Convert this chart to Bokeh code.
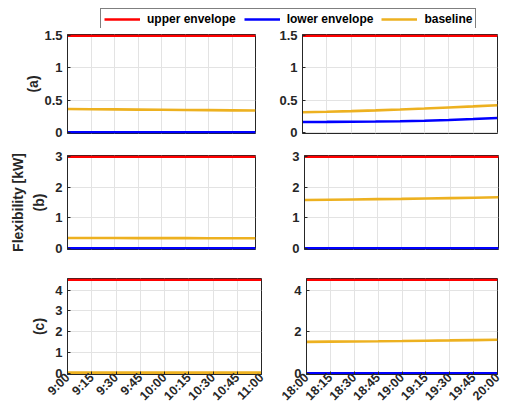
import math
from bokeh.plotting import figure
from bokeh.layouts import column, row
from bokeh.models import Range1d, FixedTicker
from bokeh.embed import file_html
from bokeh.resources import INLINE

# ---------------- data ----------------
left_times = ["9:00", "9:15", "9:30", "9:45", "10:00", "10:15", "10:30", "10:45", "11:00"]
right_times = ["18:00", "18:15", "18:30", "18:45", "19:00", "19:15", "19:30", "19:45", "20:00"]

# row (a)
a_left_upper = [1.5, 1.5, 1.5, 1.5, 1.5, 1.5, 1.5, 1.5, 1.5]
a_left_lower = [0, 0, 0, 0, 0, 0, 0, 0, 0]
a_left_base = [0.36, 0.358, 0.355, 0.352, 0.349, 0.346, 0.343, 0.340, 0.337]
a_right_upper = [1.5, 1.5, 1.5, 1.5, 1.5, 1.5, 1.5, 1.5, 1.5]
a_right_lower = [0.16, 0.161, 0.163, 0.166, 0.171, 0.179, 0.191, 0.205, 0.22]
a_right_base = [0.31, 0.318, 0.328, 0.34, 0.354, 0.369, 0.385, 0.402, 0.42]

# row (b)
b_left_upper = [3, 3, 3, 3, 3, 3, 3, 3, 3]
b_left_lower = [0, 0, 0, 0, 0, 0, 0, 0, 0]
b_left_base = [0.335, 0.334, 0.333, 0.332, 0.331, 0.33, 0.329, 0.328, 0.327]
b_right_upper = [3, 3, 3, 3, 3, 3, 3, 3, 3]
b_right_lower = [0, 0, 0, 0, 0, 0, 0, 0, 0]
b_right_base = [1.58, 1.59, 1.60, 1.61, 1.62, 1.632, 1.645, 1.657, 1.67]

# row (c)
c_left_upper = [4.5, 4.5, 4.5, 4.5, 4.5, 4.5, 4.5, 4.5, 4.5]
c_left_lower = [0, 0, 0, 0, 0, 0, 0, 0, 0]
c_left_base = [0.03, 0.03, 0.03, 0.03, 0.03, 0.03, 0.03, 0.03, 0.03]
c_right_upper = [4.5, 4.5, 4.5, 4.5, 4.5, 4.5, 4.5, 4.5, 4.5]
c_right_lower = [0, 0, 0, 0, 0, 0, 0, 0, 0]
c_right_base = [1.51, 1.52, 1.53, 1.54, 1.553, 1.567, 1.58, 1.595, 1.61]

a_yticks = [0, 0.5, 1, 1.5]
a_ylabels = ["0", "0.5", "1", "1.5"]
b_yticks = [0, 1, 2, 3]
b_ylabels = ["0", "1", "2", "3"]
c_left_yticks = [0, 1, 2, 3, 4]
c_left_ylabels = ["0", "1", "2", "3", "4"]
c_right_yticks = [0, 2, 4]
c_right_ylabels = ["0", "2", "4"]

series_names = ["upper envelope", "lower envelope", "baseline"]
series_colors = ["#ff0000", "#0000ff", "#edb120"]

FONT = "Liberation Sans"
TXT = "#262626"
GRID = "#e3e3e3"
LW = 2.6


def panel(times, upper, lower, base, yticks, ylabels, ymax, pad,
          w, h, bl, br, bt, bb, ylabel=None, label_standoff=5, show_x=False):
    p = figure(width=w, height=h, output_backend="svg", toolbar_location=None,
               min_border_left=bl, min_border_right=br,
               min_border_top=bt, min_border_bottom=bb,
               x_range=Range1d(0, len(times) - 1),
               y_range=Range1d(-pad, ymax + pad))
    xs = list(range(len(times)))
    for ys, col in zip([upper, lower, base], series_colors):
        p.line(xs, ys, line_color=col, line_width=LW)
    p.background_fill_color = "white"
    p.border_fill_color = "white"
    p.outline_line_color = TXT
    p.outline_line_width = 1

    p.xaxis.ticker = FixedTicker(ticks=xs)
    p.xgrid.ticker = FixedTicker(ticks=xs)
    p.xaxis.major_label_overrides = {i: t for i, t in zip(xs, times)}
    p.yaxis.ticker = FixedTicker(ticks=yticks)
    p.ygrid.ticker = FixedTicker(ticks=yticks)
    p.yaxis.major_label_overrides = {t: l for t, l in zip(yticks, ylabels)}
    for ax in (p.xaxis[0], p.yaxis[0]):
        ax.axis_line_color = TXT
        ax.major_tick_in = 3
        ax.major_tick_out = 0
        ax.major_tick_line_color = TXT
        ax.minor_tick_line_color = None
        ax.major_label_text_font = FONT
        ax.major_label_text_font_style = "bold"
        ax.major_label_text_color = TXT
    p.yaxis.major_label_text_font_size = "13px"
    p.yaxis.major_label_standoff = 5
    if show_x:
        p.xaxis.major_label_text_font_size = "12.5px"
        p.xaxis.major_label_orientation = math.pi / 4
        p.xaxis.major_label_standoff = 1
    else:
        p.xaxis.visible = False
    if ylabel is not None:
        p.yaxis.axis_label = ylabel
        p.yaxis.axis_label_text_font = FONT
        p.yaxis.axis_label_text_font_style = "bold"
        p.yaxis.axis_label_text_font_size = "14px"
        p.yaxis.axis_label_text_color = TXT
        p.yaxis.axis_label_standoff = label_standoff
        p.yaxis.axis_label_text_line_height = 1.35
    p.xgrid.grid_line_color = GRID
    p.ygrid.grid_line_color = GRID
    return p


# legend strip
leg = figure(width=505, height=28, output_backend="svg", toolbar_location=None,
             min_border_left=100, min_border_top=8, min_border_right=0, min_border_bottom=0,
             x_range=Range1d(0, 1), y_range=Range1d(0, 1))
for name, col in zip(series_names, series_colors):
    leg.line([5, 6], [5, 5], line_color=col, line_width=LW, legend_label=name)
leg.axis.visible = False
leg.grid.visible = False
leg.outline_line_color = None
lg = leg.legend[0]
lg.orientation = "horizontal"
lg.location = "top_left"
lg.margin = 0
lg.padding = 3
lg.spacing = 8
lg.glyph_width = 36
lg.glyph_height = 12
lg.label_height = 12
lg.label_standoff = 7
lg.label_text_font = FONT
lg.label_text_font_style = "bold"
lg.label_text_font_size = "12px"
lg.label_text_color = "black"
lg.border_line_color = "black"
lg.border_line_width = 1
lg.background_fill_alpha = 1

# rows
pa_l = panel(left_times, a_left_upper, a_left_lower, a_left_base, a_yticks, a_ylabels,
             1.5, 0.02, 270, 115, 67, 15, 6, 10, ylabel="(a)", label_standoff=0)
pa_r = panel(right_times, a_right_upper, a_right_lower, a_right_base, a_yticks, a_ylabels,
             1.5, 0.02, 235, 115, 32, 8, 6, 10)
pb_l = panel(left_times, b_left_upper, b_left_lower, b_left_base, b_yticks, b_ylabels,
             3, 0.042, 270, 122, 67, 15, 11, 16, ylabel="Flexibility [kW]\n(b)", label_standoff=5)
pb_r = panel(right_times, b_right_upper, b_right_lower, b_right_base, b_yticks, b_ylabels,
             3, 0.042, 235, 122, 34, 7, 12, 14)
pc_l = panel(left_times, c_left_upper, c_left_lower, c_left_base, c_left_yticks, c_left_ylabels,
             4.5, 0.062, 270, 146, 67, 9, 12, 37, ylabel="(c)", label_standoff=5, show_x=True)
pc_r = panel(right_times, c_right_upper, c_right_lower, c_right_base, c_right_yticks, c_right_ylabels,
             4.5, 0.062, 235, 146, 36, 8, 13, 37, show_x=True)

layout = column(leg, row(pa_l, pa_r), row(pb_l, pb_r), row(pc_l, pc_r))

open("out.html", "w").write(file_html(layout, INLINE))
